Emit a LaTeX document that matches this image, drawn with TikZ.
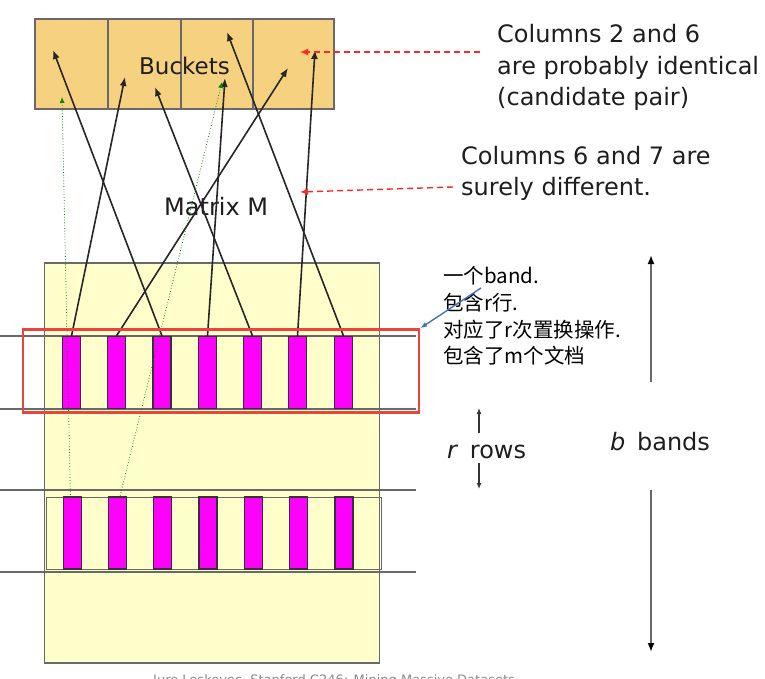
\documentclass[tikz,border=0pt]{standalone}
\usepackage{fontspec}
\setmainfont{DejaVu Sans}
\newfontfamily\cjkfont{Noto Sans CJK SC}
\usetikzlibrary{arrows.meta}
\definecolor{bucketfill}{RGB}{246,210,128}
\definecolor{matfill}{RGB}{255,255,204}
\definecolor{magbar}{RGB}{255,0,255}
\definecolor{gline}{RGB}{105,105,105}
\definecolor{redbox}{RGB}{232,69,60}
\definecolor{bluearr}{RGB}{68,114,196}
\definecolor{txt}{RGB}{30,30,30}
\begin{document}
\begin{tikzpicture}[x=1pt,y=-1pt,
  bucket/.style={draw=gline,line width=1.6pt,fill=bucketfill,minimum height=90pt,inner sep=0pt,outer sep=0pt},
  barbox/.style={draw=black!80,line width=1.2pt,fill=magbar,minimum width=18pt,minimum height=72pt,inner sep=0pt},
  lbl/.style={font=\fontsize{24}{28}\selectfont,text=txt,inner sep=0pt,anchor=base west},
  cjk/.style={font=\cjkfont\fontsize{20.5}{24}\selectfont,text=black,inner sep=0pt,anchor=base west},
  hashline/.style={draw=gline,line width=2pt},
  mainarr/.style={draw=black!85,line width=1.6pt,-{Latex[length=9pt,width=7pt]}},
  greenarr/.style={draw=green!55!black,line width=0.8pt,dotted,-{Latex[length=6pt,width=5pt]}},
  redarr/.style={draw=red!85!white,line width=1.4pt,dash pattern=on 6pt off 4pt,-{Latex[length=8pt,width=7pt]}},
  grayarr/.style={draw=gline,line width=1.8pt,-{Latex[length=9pt,width=7pt,fill=black,color=black]}}]
\useasboundingbox (0,0) rectangle (765,679);
\fill[white] (0,0) rectangle (765,679);

% buckets
\node[bucket,minimum width=73pt] (b1) at (71.5,64) {};
\node[bucket,minimum width=73pt] (b2) at (144.5,64) {};
\node[bucket,minimum width=72pt] (b3) at (217,64) {};
\node[bucket,minimum width=81pt] (b4) at (293.5,64) {};
\node[lbl,font=\fontsize{23}{28}\selectfont] (bucketslbl) at (139,75) {Buckets};

% matrix
\node[draw=gline,line width=1.6pt,fill=matfill,minimum width=335pt,minimum height=400pt,inner sep=0pt] (mat) at (212,463) {};
\node[lbl] (matlbl) at (164,215) {Matrix M};

% band lines
\draw[hashline] (0,336) coordinate (l1a) -- (416,336) coordinate (l1b);
\draw[hashline] (0,409) coordinate (l2a) -- (416,409) coordinate (l2b);
\draw[hashline] (0,490) coordinate (l3a) -- (416,490) coordinate (l3b);
\draw[hashline] (0,572) coordinate (l4a) -- (416,572) coordinate (l4b);
\node[draw=gline,line width=1pt,minimum width=335pt,minimum height=72pt,inner sep=0pt] (band2) at (213.5,533) {};

% bars top band
\foreach \i/\x in {1/71.5,2/116.5,3/162,4/207.5,5/252.5,6/297.5,7/343.5}{
  \node[barbox] (t\i) at (\x,372.5) {};
}
% bars second band
\foreach \i/\x in {1/72.5,2/117.5,3/162.5,4/208,5/253.5,6/298.5,7/344}{
  \node[barbox] (s\i) at (\x,533) {};
}

% bucket targets
\coordinate (k1) at (125,77);
\coordinate (k2) at (288,68);
\coordinate (k3) at (53,50);
\coordinate (k4) at (225,78);
\coordinate (k5) at (155,87);
\coordinate (k6) at (315,50);
\coordinate (k7) at (227,32);
\foreach \i in {1,...,7}{
  \draw[mainarr] (t\i.north) -- (k\i);
}

% green dotted arrows
\coordinate (g1) at (62,97);
\coordinate (g2) at (222,82);
\draw[greenarr] ([xshift=-2pt,yshift=-4pt]s1.north) -- (g1);
\draw[greenarr] ([xshift=2pt,yshift=-2pt]s2.north) -- (g2);

% red box
\node[draw=redbox,line width=2.4pt,minimum width=396pt,minimum height=83pt,inner sep=0pt] (redband) at (221,371) {};

% annotations
\node[lbl] (c1) at (497,43) {Columns 2 and 6};
\node[lbl] (c2) at (497,75) {are probably identical};
\node[lbl] (c3) at (497,106) {(candidate pair)};
\node[lbl] (d1) at (461,165) {Columns 6 and 7 are};
\node[lbl] (d2) at (461,195) {surely different.};
\coordinate (rt1) at (300,52);
\coordinate (rt2) at (300,192);
\draw[redarr] ([xshift=-17pt,yshift=-9pt]c1.base west) -- (rt1);
\draw[redarr] ([xshift=-8pt,yshift=-22pt]d1.base west) -- (rt2);

% chinese
\node[cjk] (z1) at (443,283) {一个band.};
\node[cjk] (z2) at (443,310) {包含r行.};
\node[cjk] (z3) at (443,337) {对应了r次置换操作.};
\node[cjk] (z4) at (443,363) {包含了m个文档};
\draw[draw=bluearr,line width=1.4pt,-{Latex[length=7pt,width=5pt]}] ([xshift=38pt,yshift=-5pt]z1.base west) -- (redband.north east);

% r rows
\node[lbl] (rrows) at (447,458) {\textit{r}\, rows};
\coordinate (ru) at (479,408);
\coordinate (rd) at (479,489);
\draw[draw=black!80,line width=1.2pt,-{Latex[length=6pt,width=5pt]}] (479,433) -- (ru);
\draw[draw=black!80,line width=1.2pt,-{Latex[length=6pt,width=5pt]}] (479,463) -- (rd);

% b bands
\node[lbl] (bbands) at (610,450) {\textit{b}\, bands};
\coordinate (bu) at (651,255);
\coordinate (bd) at (651,652);
\draw[grayarr] (651,382) -- (bu);
\draw[grayarr] (651,490) -- (bd);

% footer (cut off as in the reference)
\node[font=\fontsize{13}{15}\selectfont,text=black!45,inner sep=0pt,anchor=base west] (foot) at (153,684) {Jure Leskovec, Stanford C246: Mining Massive Datasets};
\end{tikzpicture}
\end{document}
